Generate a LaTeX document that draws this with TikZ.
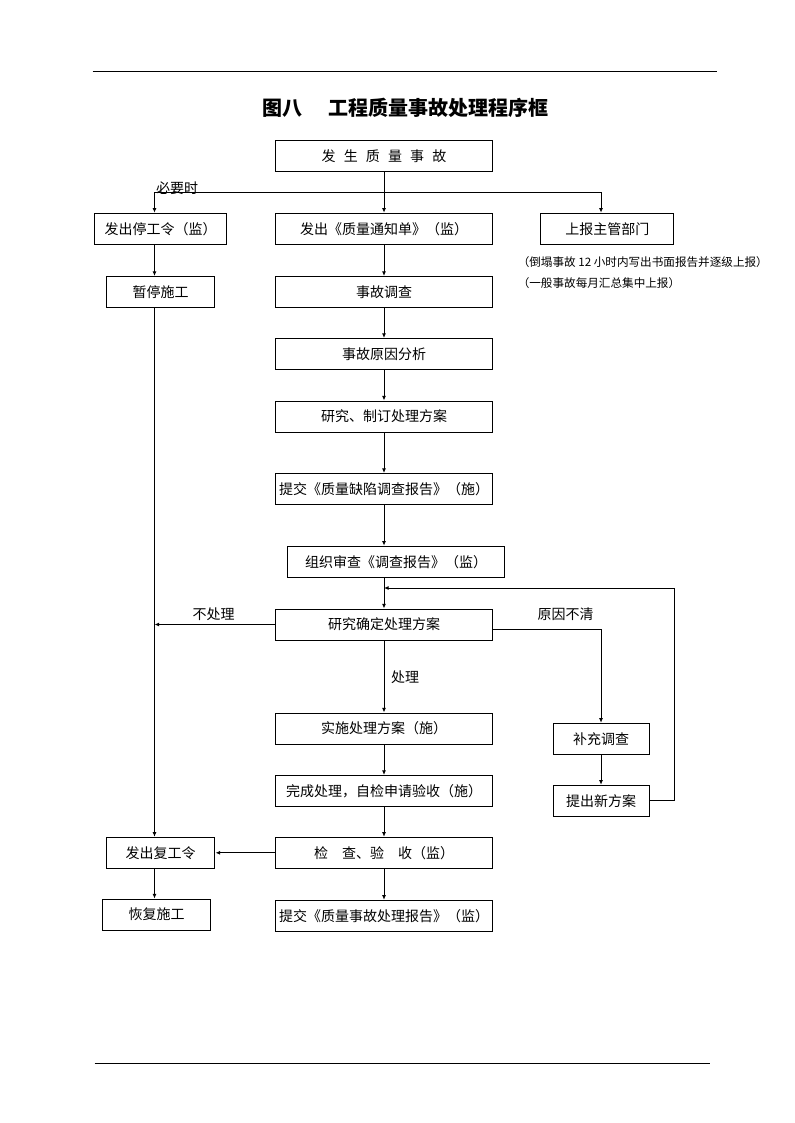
\documentclass[tikz,border=0pt]{standalone}
\usepackage{fontspec}
\setmainfont{Noto Sans CJK SC}
\usepackage{tikz}
\usetikzlibrary{arrows.meta}
\newcommand{\kgap}{\hspace{0.58em}}
\tikzset{
  mainbox/.style = {shape=rectangle, draw, anchor=center,
                    minimum width=162.75pt, minimum height=23.25pt,
                    inner sep=0pt, line width=0.75pt},
  sidebox/.style = {mainbox, minimum width=81.4pt},
  note/.style = {anchor=west, inner sep=0pt,
                 font=\fontsize{8.7pt}{10pt}\selectfont},
  tag/.style = {inner sep=0pt},
  link/.style = {line width=0.75pt},
  arrow/.style = {line width=0.75pt, -{Latex[length=3.5pt,width=3pt]}}
}

\begin{document}
\begin{tikzpicture}[x=0.75pt, y=-0.75pt, font=\fontsize{10.5pt}{12pt}\selectfont]
  \useasboundingbox (0,0) rectangle (794,1123);
  % page rules
  \draw [link] (92.5,72) -- (716.7,72);
  \draw [link] (94.6,1063) -- (710,1063);
  \node (title) at (405,108) {\fontsize{15pt}{18pt}\selectfont\bfseries 图八\hspace{1.3em}工程质量事故处理程序框};

  % main column
  \node (incident) [mainbox] at (384,156.3) {发\kgap 生\kgap 质\kgap 量\kgap 事\kgap 故};
  \node (notice) [mainbox] at (384,228.7) {发出《质量通知单》（监）};
  \node (survey) [mainbox] at (384,292) {事故调查};
  \node (cause) [mainbox] at (384,354) {事故原因分析};
  \node (draft) [mainbox] at (384,416.5) {研究、制订处理方案};
  \node (defect) [mainbox] at (384,489) {提交《质量缺陷调查报告》（施）};
  \node (review) [mainbox] at (396,561.7) {组织审查《调查报告》（监）};
  \node (decide) [mainbox] at (384,624.5) {研究确定处理方案};
  \node (apply) [mainbox] at (384,728.5) {实施处理方案（施）};
  \node (finish) [mainbox] at (384,791) {完成处理，自检申请验收（施）};
  \node (check) [mainbox] at (384,852.8) {检　查、验　收（监）};
  \node (report) [mainbox] at (384,915.8) {提交《质量事故处理报告》（监）};

  % left column
  \node (halt) [mainbox, minimum width=99pt] at (160.7,228.7) {发出停工令（监）};
  \node (pause) [sidebox] at (160.7,292) {暂停施工};
  \node (resume) [sidebox] at (160.7,852.8) {发出复工令};
  \node (restart) [sidebox] at (156.7,914.6) {恢复施工};

  % right column
  \node (inform) [mainbox, minimum width=99.5pt] at (607.3,228.7) {上报主管部门};
  \node (note1) [note] at (517.5,261.7) {（倒塌事故 12 小时内写出书面报告并逐级上报）};
  \node (note2) [note] at (517.5,283.3) {（一般事故每月汇总集中上报）};
  \node (extra) [mainbox, minimum width=72pt] at (601,738.8) {补充调查};
  \node (newplan) [mainbox, minimum width=72pt] at (601,800.8) {提出新方案};

  % labels
  \node (when) [tag] at (177,188) {必要时};
  \node (skip) [tag] at (213.5,614) {不处理};
  \node (unclear) [tag] at (565.7,614) {原因不清};
  \node (treat) [tag] at (405,677) {处理};

  \coordinate (lcol) at (154.5,192.3);
  \coordinate (rcol) at (601,192.3);
  \coordinate (loop) at (674,588);

  \draw [arrow] (incident) -- (notice);
  \draw [link] (lcol) -- (rcol);
  \draw [arrow] (lcol) -- (lcol |- halt.north);
  \draw [arrow] (rcol) -- (rcol |- inform.north);
  \draw [arrow] (lcol |- halt.south) -- (lcol |- pause.north);
  \draw [arrow] (lcol |- pause.south) -- (lcol |- resume.north);
  \draw [arrow] (lcol |- resume.south) -- (lcol |- restart.north);

  \draw [arrow] (notice) -- (survey);
  \draw [arrow] (survey) -- (cause);
  \draw [arrow] (cause) -- (draft);
  \draw [arrow] (draft) -- (defect);
  \draw [arrow] (defect) -- (defect |- review.north);
  \draw [arrow] (defect |- review.south) -- (decide);
  \draw [arrow] (decide.west) -- (decide.west -| lcol);
  \draw [arrow] ([yshift=-3.4pt]decide.east) -| (extra.north);
  \draw [arrow] (extra) -- (newplan);
  \draw [arrow] (newplan.east) -| (loop) -- (loop -| decide);
  \draw [arrow] (decide) -- (apply);
  \draw [arrow] (apply) -- (finish);
  \draw [arrow] (finish) -- (check);
  \draw [arrow] (check) -- (report);
  \draw [arrow] (check) -- (resume);
\end{tikzpicture}
\end{document}
